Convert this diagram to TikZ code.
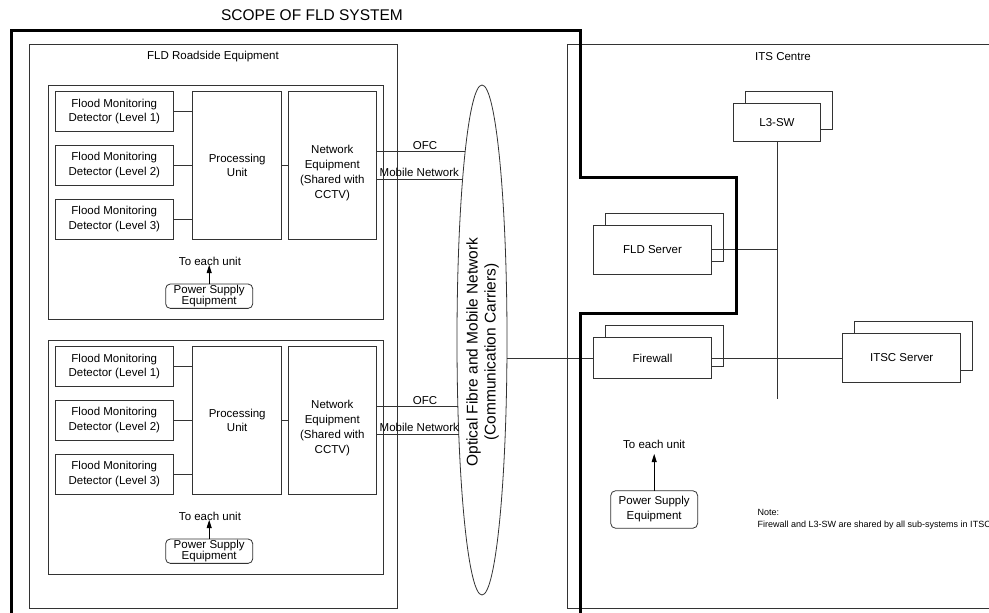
\documentclass[tikz,border=0pt]{standalone}
\usepackage{fontspec}
\setmainfont{Liberation Sans}
\usetikzlibrary{arrows.meta,shapes.geometric}

\begin{document}
\begin{tikzpicture}[x=1pt,y=-1pt,
  frame/.style={draw=black!80, line width=0.8pt},
  unitbox/.style={draw=black!80, fill=white, line width=0.8pt, inner sep=0pt, outer sep=0pt,
    align=center, font=\fontsize{11.5}{14.5}\selectfont},
  psubox/.style={unitbox, rounded corners=4.5pt, minimum width=87pt},
  plain/.style={inner sep=0pt, align=center, font=\fontsize{11.5}{14.5}\selectfont},
  wire/.style={draw=black!80, line width=0.8pt},
  feed/.style={draw=black, line width=0.8pt, -{Triangle[length=8pt,width=5pt]}},
  scope/.style={draw=black, line width=3pt, line join=miter}
]
\useasboundingbox (0,0) rectangle (989,613);

% ---- title of the system boundary ----
\node[plain, font=\fontsize{15.5}{18}\selectfont] (title) at (312,15.6) {SCOPE OF FLD SYSTEM};

% ---- roadside equipment frame ----
\draw[frame] (29.5,44.3) rectangle (397,608.3);
\node[plain] (rslabel) at (213,57) {FLD Roadside Equipment};

% ---- ITS centre frame ----
\draw[frame] (567.3,44.3) rectangle (995,608.3);
\node[plain] (itslabel) at (783,57) {ITS Centre};

% ---- communication carriers ----
\node[draw=black!80, line width=0.8pt, ellipse, minimum width=50pt, minimum height=510pt,
      inner sep=0pt] (ell) at (482,340) {};
\node[plain, rotate=90, font=\fontsize{15.5}{18}\selectfont] (elltext) at (482.5,352)
  {Optical Fibre and Mobile Network\\(Communication Carriers)};

% ---- two roadside sites ----
\foreach \k/\dy/\xo/\xm in {1/0/465.1/462.6, 2/255/457.9/458.8} {
  \draw[frame] (48.7,85+\dy) rectangle (383,319+\dy);
  \foreach \j/\yy in {1/111.7,2/165,3/219} {
    \node[unitbox, minimum width=118pt, minimum height=40pt] (det\k\j) at (114.3,\yy+\dy)
      {Flood Monitoring\\Detector (Level \j)};
  }
  \node[unitbox, minimum width=89pt, minimum height=147.3pt] (pu\k) at (237.2,165.3+\dy)
    {Processing\\Unit};
  \node[unitbox, minimum width=88.7pt, minimum height=147.3pt] (ne\k) at (332.3,165.3+\dy) {};
  \node[plain, font=\fontsize{11.5}{15}\selectfont] (net\k) at (332.3,173+\dy)
    {Network\\Equipment\\(Shared with\\CCTV)};
  \foreach \j in {1,2,3} \draw[wire] (det\k\j.east) -- (det\k\j.east -| pu\k.west);
  \draw[wire] (pu\k.east) -- (pu\k.east -| ne\k.west);
  % links to the carriers
  \coordinate (ofc\k) at (\xo,151.7+\dy);
  \coordinate (mob\k) at (\xm,179+\dy);
  \draw[wire] (ne\k.east |- ofc\k) -- (ofc\k);
  \draw[wire] (ne\k.east |- mob\k) -- (mob\k);
  \node[plain] (ofclabel\k) at (425,145.7+\dy) {OFC};
  \node[plain] (moblabel\k) at (419.3,172.7+\dy) {Mobile Network};
  % power supply
  \node[psubox, minimum height=24.3pt, font=\fontsize{11.5}{11}\selectfont] (psu\k)
    at (209.2,296.2+\dy) {Power Supply\\Equipment};
  \node[plain] (each\k) at (210,261.7+\dy) {To each unit};
  \coordinate (feedtip\k) at (209.2,265+\dy);
  \draw[feed] (psu\k.north) -- (feedtip\k);
}

% ---- ITS centre equipment (stacked = duplicated units) ----
\node[unitbox, minimum width=87.4pt, minimum height=38pt] (l3back) at (789,110.3) {};
\node[unitbox, minimum width=87.4pt, minimum height=38pt] (l3) at (777,122.3) {L3-SW};

\node[unitbox, minimum width=118.4pt, minimum height=48.7pt] (fldback) at (664.5,237.5) {};
\node[unitbox, minimum width=118.4pt, minimum height=48.7pt] (fld) at (652.5,249.7) {FLD Server};

\node[unitbox, minimum width=118.4pt, minimum height=40.6pt] (fwback) at (664.5,345.7) {};
\node[unitbox, minimum width=118.4pt, minimum height=40.6pt] (fw) at (652.5,358) {Firewall};

\node[unitbox, minimum width=118pt, minimum height=48.7pt] (itscback) at (913.3,346) {};
\node[unitbox, minimum width=118pt, minimum height=48.7pt] (itsc) at (901.7,358) {ITSC Server};

% backbone and links
\coordinate (busend) at (777,399);
\draw[wire] (l3.south) -- (busend);
\draw[wire] (fld.east) -- (fld.east -| l3.south);
\coordinate (ellr) at (506.6,358);
\draw[wire] (ellr) -- (fw.west);
\draw[wire] (fw.east) -- (itsc.west);

% centre power supply
\node[psubox, minimum height=37.6pt, rounded corners=5pt, font=\fontsize{11.5}{15}\selectfont] (psu3)
  at (654.2,509.5) {Power Supply\\Equipment};
\node[plain] (each3) at (654.2,444) {To each unit};
\coordinate (feedtip3) at (654.2,454);
\draw[feed] (psu3.north) -- (feedtip3);

% note
\node[plain, anchor=west, font=\fontsize{9}{10}\selectfont] (notehead) at (757.5,512) {Note:};
\node[plain, anchor=west, font=\fontsize{9}{10}\selectfont] (notebody) at (757.5,525)
  {Firewall and L3-SW are shared by all sub-systems in ITSC};

% ---- scope boundary ----
\draw[scope] (11.7,616) -- (11.7,30.5) -- (580,30.5) -- (580,177) -- (736,177)
  -- (736,313) -- (580,313) -- (580,616);
\end{tikzpicture}
\end{document}
